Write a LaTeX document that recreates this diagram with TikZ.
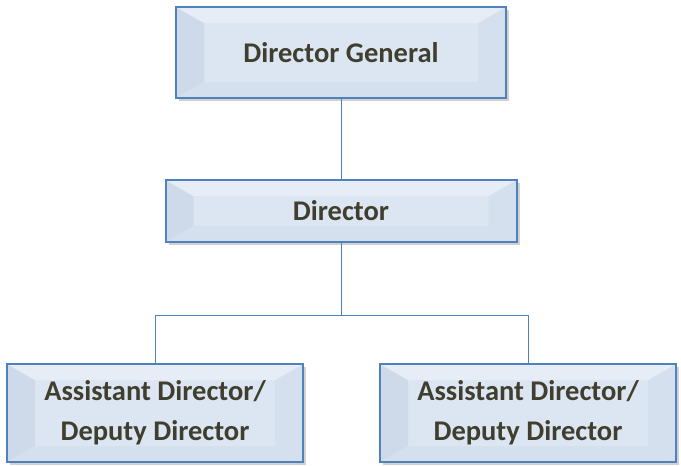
\documentclass[tikz,border=0pt]{standalone}
\usepackage{fontspec}
\setmainfont{Carlito}
\usepackage{tikz}
\usetikzlibrary{positioning,calc,shadows}
\definecolor{boxblue}{RGB}{79,129,189}
\definecolor{boxfill}{RGB}{220,230,242}
\definecolor{bevelside}{RGB}{206,218,234}
\definecolor{beveltop}{RGB}{230,237,246}
\definecolor{bevelbot}{RGB}{212,224,238}
\definecolor{labeltext}{RGB}{64,62,46}

\begin{document}
\begin{tikzpicture}[x=1pt,y=-1pt,font=\bfseries\fontsize{28.5}{40}\selectfont,
  orgbox/.style={draw=boxblue,line width=2pt,fill=boxfill,inner sep=0pt,
    align=center,text=labeltext,
    drop shadow={shadow xshift=3pt,shadow yshift=-3pt,opacity=0.3,fill=black!60},
    path picture={
      \fill[bevelside] (path picture bounding box.north west) -- ([shift={(28pt,-16pt)}]path picture bounding box.north west)
        -- ([shift={(28pt,16pt)}]path picture bounding box.south west) -- (path picture bounding box.south west) -- cycle;
      \fill[bevelside!50!boxfill] (path picture bounding box.north east) -- ([shift={(-28pt,-16pt)}]path picture bounding box.north east)
        -- ([shift={(-28pt,16pt)}]path picture bounding box.south east) -- (path picture bounding box.south east) -- cycle;
      \fill[beveltop] (path picture bounding box.north west) -- ([shift={(28pt,-16pt)}]path picture bounding box.north west)
        -- ([shift={(-28pt,-16pt)}]path picture bounding box.north east) -- (path picture bounding box.north east) -- cycle;
      \fill[bevelbot] (path picture bounding box.south west) -- ([shift={(28pt,16pt)}]path picture bounding box.south west)
        -- ([shift={(-28pt,16pt)}]path picture bounding box.south east) -- (path picture bounding box.south east) -- cycle;
    }},
  link/.style={draw=boxblue,line width=0.8pt}]
\useasboundingbox (0,0) rectangle (681,466);
% boxes
\node[orgbox,minimum width=330pt,minimum height=91pt] (dg) at (341,52.5) {Director General};
\node[orgbox,minimum width=351pt,minimum height=62pt] (dir) at (341,211) {Director};
\node[orgbox,minimum width=296pt,minimum height=98pt] (adl) at (155,413) {Assistant Director/\\Deputy Director};
\node[orgbox,minimum width=296pt,minimum height=98pt] (adr) at (528,413) {Assistant Director/\\Deputy Director};
% links
\coordinate (split) at (dir.south |- 0,315);
\draw[link] (dg.south) -- (dir.north);
\draw[link] (dir.south) -- (split);
\draw[link] (split) -| (adl.north);
\draw[link] (split) -| (adr.north);
\end{tikzpicture}
\end{document}
